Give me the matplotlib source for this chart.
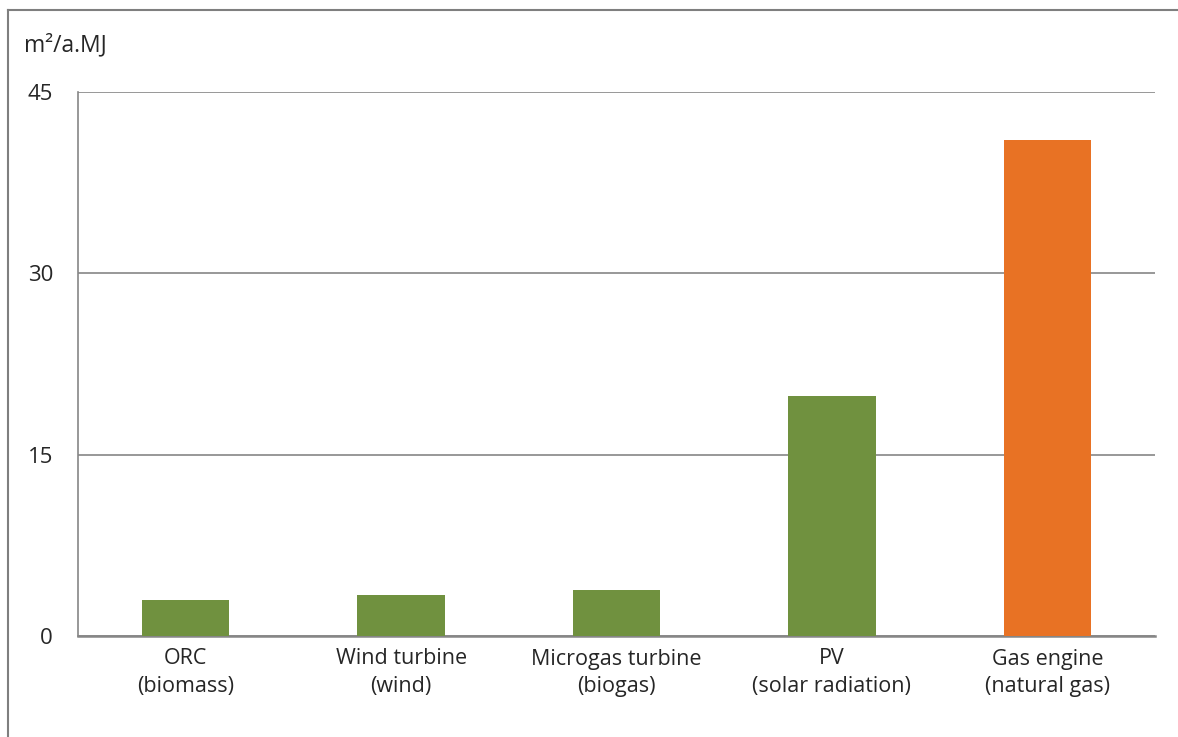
import matplotlib
matplotlib.use("Agg")
import matplotlib.pyplot as plt
from matplotlib.lines import Line2D

categories = ["ORC\n(biomass)", "Wind turbine\n(wind)", "Microgas turbine\n(biogas)",
              "PV\n(solar radiation)", "Gas engine\n(natural gas)"]
values = [3.0, 3.4, 3.8, 19.85, 41.0]
colors = ["#70913F", "#70913F", "#70913F", "#70913F", "#E87224"]
yticks = [0, 15, 30, 45]

plt.rcParams["font.family"] = ["Open Sans", "DejaVu Sans"]

fig = plt.figure(figsize=(11.78, 7.37), dpi=100)
ax = fig.add_axes([78 / 1178, 1 - 636 / 737, 1077 / 1178, 544 / 737])

x = range(len(categories))
ax.bar(x, values, width=0.405, color=colors, zorder=3)
ax.set_xlim(-0.5, len(categories) - 0.5)
ax.set_ylim(0, 45)
ax.set_yticks(yticks)
ax.set_xticks(list(x), categories)
ax.grid(axis="y", color="#868686", linewidth=1.2, zorder=0)
for s in ["top", "right"]:
    ax.spines[s].set_visible(False)
ax.spines["left"].set_color("#868686")
ax.spines["left"].set_linewidth(1.2)
ax.spines["bottom"].set_color("#868686")
ax.spines["bottom"].set_linewidth(1.8)
ax.tick_params(axis="x", length=0, labelsize=15.5, colors="#262626", pad=9)
ax.tick_params(axis="y", length=0, labelsize=16, colors="#262626", pad=18)
for t in ax.get_xticklabels():
    t.set_linespacing(1.4)

fig.text(24 / 1178, 1 - 45 / 737, "m²/a.MJ", fontsize=16.5, color="#262626",
         va="center", ha="left")

# outer frame (cropped)
fig.add_artist(Line2D([8 / 1178, 8 / 1178], [0, 1 - 10 / 737], color="#7F7F7F", linewidth=1.5))
fig.add_artist(Line2D([8 / 1178, 1], [1 - 10 / 737, 1 - 10 / 737], color="#7F7F7F", linewidth=1.5))

fig.savefig("out.png", dpi=100)
